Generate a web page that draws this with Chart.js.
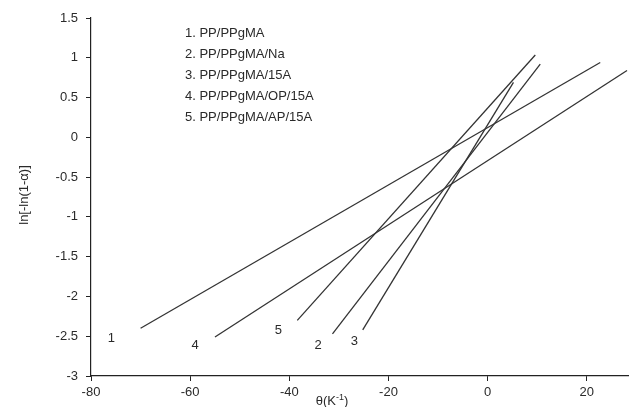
<!DOCTYPE html>
<html>
<head>
<meta charset="utf-8">
<script src="https://cdn.jsdelivr.net/npm/chart.js@4.4.1/dist/chart.umd.min.js"></script>
<style>
  html, body { margin: 0; padding: 0; background: #fff; }
  #wrap { width: 629px; height: 407px; position: relative; }
</style>
</head>
<body>
<div id="wrap"><canvas id="c" width="629" height="407"></canvas></div>
<script>
// Sample names and the short tags written next to each line
const seriesNames = ['1. PP/PPgMA', '2. PP/PPgMA/Na', '3. PP/PPgMA/15A', '4. PP/PPgMA/OP/15A', '5. PP/PPgMA/AP/15A'];
const seriesTags = ['1', '2', '3', '4', '5'];

// Fitted Ozawa lines: first and last point of each (theta, ln[-ln(1-alpha)])
const thetaStart = [-70.0, -31.3, -25.2, -55.0, -38.4];
const thetaEnd   = [22.7, 10.6, 5.2, 28.1, 9.6];
const lnStart    = [-2.40, -2.47, -2.42, -2.51, -2.30];
const lnEnd      = [0.94, 0.92, 0.69, 0.84, 1.035];

// Where each tag number sits, in data units
const tagTheta = [-75.9, -34.2, -26.9, -59.0, -42.2];
const tagLn    = [-2.53, -2.62, -2.57, -2.62, -2.43];

// Axis ticks
const xTicks = [-80, -60, -40, -20, 0, 20];
const yTicks = [-3, -2.5, -2, -1.5, -1, -0.5, 0, 0.5, 1, 1.5];

const FONT = '"Liberation Sans", Arial, sans-serif';
const INK = '#2a2a2a';

const datasets = seriesNames.map((name, i) => ({
  label: name,
  data: [{ x: thetaStart[i], y: lnStart[i] }, { x: thetaEnd[i], y: lnEnd[i] }],
  borderColor: '#333',
  borderWidth: 1.3,
  pointRadius: 0,
  showLine: true,
  fill: false
}));

// Legend list, line tags and axis titles drawn straight on the canvas
const annotations = {
  id: 'annotations',
  afterDraw(chart) {
    const ctx = chart.ctx;
    const xs = chart.scales.x, ys = chart.scales.y;
    ctx.save();
    ctx.fillStyle = INK;
    ctx.font = '13px ' + FONT;
    ctx.textAlign = 'left';
    ctx.textBaseline = 'middle';
    seriesNames.forEach((n, i) => ctx.fillText(n, 185, 33 + i * 21));

    ctx.textAlign = 'center';
    seriesTags.forEach((t, i) => {
      ctx.fillText(t, xs.getPixelForValue(tagTheta[i]), ys.getPixelForValue(tagLn[i]));
    });

    // y title
    ctx.save();
    ctx.translate(24, 195);
    ctx.rotate(-Math.PI / 2);
    ctx.textAlign = 'center';
    ctx.textBaseline = 'middle';
    ctx.font = '13px ' + FONT;
    ctx.fillText('ln[-ln(1-α)]', 0, 0);
    ctx.restore();

    // x title with superscript
    ctx.textBaseline = 'alphabetic';
    ctx.textAlign = 'left';
    const base = 405;
    const p1 = 'θ(K', sup = '-1', p2 = ')';
    ctx.font = '13px ' + FONT;
    const w1 = ctx.measureText(p1).width, w3 = ctx.measureText(p2).width;
    ctx.font = '9px ' + FONT;
    const w2 = ctx.measureText(sup).width;
    let x0 = 332 - (w1 + w2 + w3) / 2;
    ctx.font = '13px ' + FONT;
    ctx.fillText(p1, x0, base);
    ctx.font = '9px ' + FONT;
    ctx.fillText(sup, x0 + w1, base - 5);
    ctx.font = '13px ' + FONT;
    ctx.fillText(p2, x0 + w1 + w2, base);
    ctx.restore();
  }
};

const plainNumber = v => String(v);

new Chart(document.getElementById('c'), {
  type: 'scatter',
  data: { datasets },
  options: {
    responsive: false,
    animation: false,
    devicePixelRatio: 1,
    layout: { padding: { top: 18, right: 0, bottom: 0, left: 0 } },
    plugins: { legend: { display: false }, tooltip: { enabled: false } },
    scales: {
      x: {
        type: 'linear',
        min: -80, max: 28.5,
        afterBuildTicks: s => { s.ticks = xTicks.map(v => ({ value: v })); },
        afterFit: s => { s.height = 31; },
        border: { display: true, color: '#222', width: 1.2 },
        grid: { drawOnChartArea: false, drawTicks: true, tickLength: 5, color: '#222', tickColor: '#222' },
        ticks: { color: INK, font: { family: FONT, size: 13 }, padding: 4, maxRotation: 0, callback: plainNumber }
      },
      y: {
        type: 'linear',
        min: -3, max: 1.5,
        afterBuildTicks: s => { s.ticks = yTicks.map(v => ({ value: v })); },
        afterFit: s => { s.width = 91; },
        border: { display: true, color: '#222', width: 1.2 },
        grid: { drawOnChartArea: false, drawTicks: true, tickLength: 5, color: '#222', tickColor: '#222' },
        ticks: { color: INK, font: { family: FONT, size: 13 }, padding: 8, callback: plainNumber }
      }
    }
  },
  plugins: [annotations]
});
</script>
</body>
</html>
